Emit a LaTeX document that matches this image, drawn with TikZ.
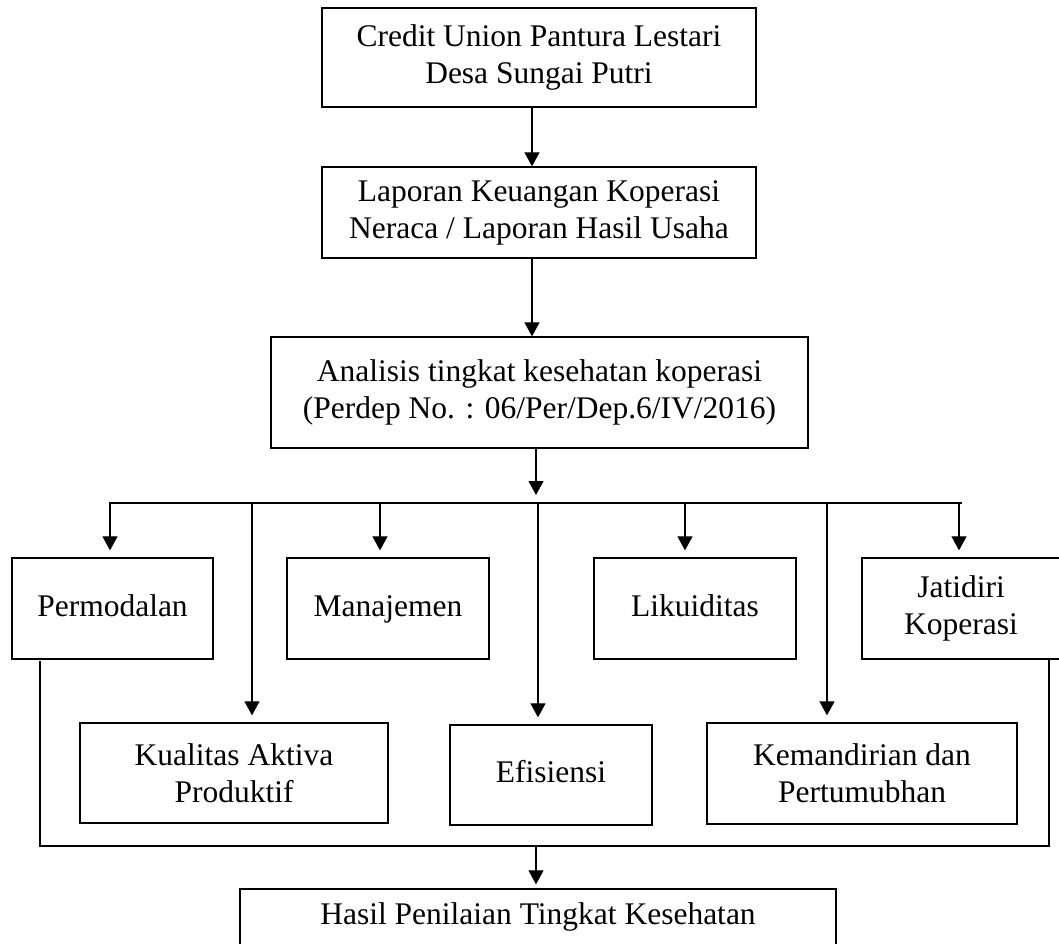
\documentclass[tikz,border=0pt]{standalone}
\usepackage{fontspec}
\setmainfont{Liberation Serif}
\usetikzlibrary{arrows.meta}
\tikzset{
    kotak/.style={draw, line width=1.3pt, align=center, inner sep=0pt,
        font=\fontsize{31.5}{37}\selectfont},
    satu/.style={text height=22pt, text depth=7pt},
}
\begin{document}
\begin{tikzpicture}[x=1pt, y=-1pt, line width=1.1pt,
    >={Triangle[length=14pt, width=15pt]}]
    \useasboundingbox (0,0) rectangle (1059,944);

    \node[kotak, minimum width=434pt, minimum height=99pt] (cu) at (539,57.5)
        {Credit Union Pantura Lestari\\Desa Sungai Putri};
    \node[kotak, minimum width=434pt, minimum height=91pt] (lap) at (539,212.5)
        {Laporan Keuangan Koperasi\\Neraca / Laporan Hasil Usaha};
    \node[kotak, minimum width=537pt, minimum height=111pt] (ana) at (539.5,392.5)
        {Analisis tingkat kesehatan koperasi\\(Perdep No. : 06/Per/Dep.6/IV/2016)};

    \node[kotak, satu, minimum width=201pt, minimum height=101pt] (perm) at (112.5,608.5) {Permodalan};
    \node[kotak, satu, minimum width=202pt, minimum height=101pt] (man) at (388,608.5) {Manajemen};
    \node[kotak, satu, minimum width=202pt, minimum height=101pt] (lik) at (695,608.5) {Likuiditas};
    \node[kotak, minimum width=198pt, minimum height=101pt] (jati) at (961,608.5) {Jatidiri\\Koperasi};

    \node[kotak, minimum width=308pt, minimum height=100pt] (kual) at (234,773) {Kualitas Aktiva\\Produktif};
    \node[kotak, satu, minimum width=202pt, minimum height=100pt] (efi) at (551,775) {Efisiensi};
    \node[kotak, minimum width=310pt, minimum height=101pt] (kem) at (862,773.5) {Kemandirian dan\\Pertumubhan};

    \node[kotak, satu, minimum width=596pt, minimum height=56pt] (hasil) at (538,917) {Hasil Penilaian Tingkat Kesehatan};

    \draw[->] ([xshift=-7pt]cu.south) -- ([xshift=-7pt]lap.north);
    \draw[->] ([xshift=-7pt]lap.south) -- ([xshift=-7.5pt]ana.north);

    % garis cabang
    \coordinate (cab) at (536,503);
    \draw[->, shorten >=8pt] (ana.south -| cab) -- (cab);
    \foreach \nm/\dx in {perm/-2.5, man/-8, lik/-10, jati/-2, kual/18, efi/-13, kem/-35}
    {
        \coordinate (\nm-in) at ([xshift=\dx pt]\nm.north);
        \draw[->, shorten >=7pt] (\nm-in |- cab) -- (\nm-in);
    }
    \draw ([xshift=-1pt]perm-in |- cab) -- ([xshift=3pt]jati-in |- cab);

    % garis pengumpul
    \coordinate (kiri) at (40,661);
    \coordinate (kanan) at (1049,658);
    \coordinate (kumpul) at (536,846);
    \draw (kiri) |- (kumpul) -| (kanan);
    \draw[->, shorten >=4pt] (kumpul) -- (kumpul |- hasil.north);
\end{tikzpicture}
\end{document}
